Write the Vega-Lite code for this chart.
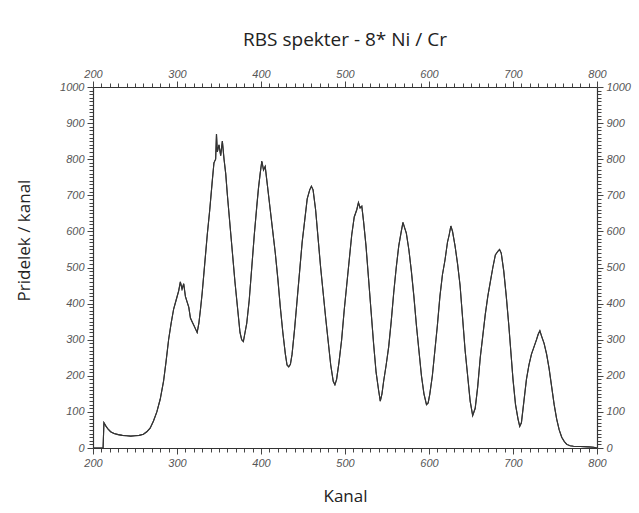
{
  "$schema": "https://vega.github.io/schema/vega-lite/v6.json",
  "width": 504,
  "height": 361,
  "autosize": {"type": "none"},
  "padding": {"left": 93, "top": 87, "right": 42, "bottom": 65},
  "background": "white",
  "config": {"view": {"stroke": null}},
  "title": {"text": "RBS spekter - 8* Ni / Cr", "fontSize": 19, "font": "Open Sans", "fontWeight": "normal", "color": "#222", "offset": 18},
  "data": {"values": [
    {"k":200,"c":0},{"k":210,"c":0},{"k":212,"c":0},{"k":213,"c":70},{"k":215,"c":62},{"k":218,"c":52},{"k":221,"c":45},{"k":225,"c":40},{"k":230,"c":37},{"k":235,"c":35},{"k":240,"c":34},{"k":245,"c":33},{"k":250,"c":34},{"k":255,"c":35},{"k":260,"c":38},{"k":264,"c":45},{"k":268,"c":55},{"k":272,"c":75},{"k":276,"c":100},{"k":280,"c":135},{"k":284,"c":185},{"k":287,"c":240},{"k":290,"c":300},{"k":293,"c":345},{"k":296,"c":385},{"k":299,"c":410},{"k":302,"c":435},{"k":304,"c":460},{"k":306,"c":440},{"k":308,"c":455},{"k":310,"c":420},{"k":312,"c":405},{"k":314,"c":390},{"k":316,"c":360},{"k":318,"c":350},{"k":320,"c":340},{"k":322,"c":330},{"k":324,"c":320},{"k":326,"c":345},{"k":328,"c":385},{"k":330,"c":430},{"k":333,"c":510},{"k":336,"c":590},{"k":339,"c":660},{"k":342,"c":740},{"k":344,"c":790},{"k":346,"c":800},{"k":347,"c":870},{"k":348,"c":820},{"k":350,"c":840},{"k":352,"c":810},{"k":354,"c":850},{"k":356,"c":800},{"k":358,"c":760},{"k":360,"c":700},{"k":363,"c":620},{"k":366,"c":540},{"k":369,"c":460},{"k":372,"c":390},{"k":375,"c":320},{"k":377,"c":300},{"k":379,"c":295},{"k":381,"c":320},{"k":383,"c":345},{"k":386,"c":410},{"k":389,"c":500},{"k":392,"c":590},{"k":395,"c":670},{"k":397,"c":720},{"k":399,"c":760},{"k":401,"c":795},{"k":403,"c":770},{"k":405,"c":780},{"k":407,"c":740},{"k":409,"c":700},{"k":411,"c":660},{"k":414,"c":600},{"k":417,"c":540},{"k":420,"c":470},{"k":423,"c":390},{"k":426,"c":320},{"k":429,"c":260},{"k":431,"c":230},{"k":433,"c":225},{"k":435,"c":232},{"k":437,"c":260},{"k":440,"c":330},{"k":443,"c":410},{"k":446,"c":490},{"k":449,"c":570},{"k":452,"c":630},{"k":455,"c":690},{"k":458,"c":715},{"k":460,"c":725},{"k":462,"c":715},{"k":465,"c":660},{"k":468,"c":580},{"k":471,"c":500},{"k":474,"c":430},{"k":477,"c":360},{"k":480,"c":295},{"k":483,"c":230},{"k":486,"c":185},{"k":488,"c":175},{"k":490,"c":190},{"k":493,"c":240},{"k":496,"c":300},{"k":499,"c":380},{"k":502,"c":450},{"k":505,"c":520},{"k":508,"c":590},{"k":511,"c":640},{"k":514,"c":660},{"k":516,"c":680},{"k":518,"c":665},{"k":520,"c":670},{"k":522,"c":630},{"k":525,"c":560},{"k":528,"c":470},{"k":531,"c":380},{"k":534,"c":290},{"k":537,"c":210},{"k":540,"c":160},{"k":542,"c":130},{"k":544,"c":150},{"k":546,"c":185},{"k":549,"c":230},{"k":552,"c":280},{"k":555,"c":350},{"k":558,"c":430},{"k":561,"c":500},{"k":564,"c":560},{"k":567,"c":600},{"k":569,"c":625},{"k":571,"c":610},{"k":573,"c":595},{"k":576,"c":550},{"k":579,"c":490},{"k":582,"c":420},{"k":585,"c":340},{"k":588,"c":270},{"k":591,"c":200},{"k":594,"c":150},{"k":597,"c":120},{"k":599,"c":125},{"k":601,"c":150},{"k":604,"c":200},{"k":607,"c":270},{"k":610,"c":340},{"k":613,"c":420},{"k":616,"c":480},{"k":619,"c":520},{"k":622,"c":570},{"k":624,"c":590},{"k":626,"c":615},{"k":628,"c":600},{"k":631,"c":560},{"k":634,"c":510},{"k":637,"c":450},{"k":640,"c":360},{"k":643,"c":270},{"k":646,"c":200},{"k":649,"c":130},{"k":652,"c":90},{"k":655,"c":110},{"k":658,"c":170},{"k":661,"c":250},{"k":664,"c":310},{"k":667,"c":370},{"k":670,"c":420},{"k":673,"c":460},{"k":676,"c":500},{"k":679,"c":535},{"k":682,"c":545},{"k":684,"c":550},{"k":686,"c":540},{"k":689,"c":490},{"k":692,"c":420},{"k":695,"c":340},{"k":698,"c":250},{"k":700,"c":190},{"k":703,"c":120},{"k":706,"c":80},{"k":708,"c":60},{"k":710,"c":70},{"k":713,"c":130},{"k":716,"c":190},{"k":719,"c":230},{"k":722,"c":260},{"k":725,"c":280},{"k":728,"c":300},{"k":730,"c":315},{"k":732,"c":325},{"k":734,"c":310},{"k":737,"c":290},{"k":740,"c":260},{"k":743,"c":220},{"k":746,"c":170},{"k":749,"c":120},{"k":752,"c":80},{"k":755,"c":50},{"k":758,"c":30},{"k":761,"c":18},{"k":764,"c":10},{"k":768,"c":6},{"k":772,"c":5},{"k":780,"c":4},{"k":790,"c":3},{"k":796,"c":2},{"k":800,"c":0}
  ]},
  "layer": [
    {
      "mark": {"type": "line", "color": "#333", "strokeWidth": 1.1, "clip": true},
      "encoding": {
        "x": {"field": "k", "type": "quantitative", "scale": {"domain": [200, 800], "nice": false, "zero": false},
          "axis": {"orient": "bottom", "title": "Kanal", "titleFont": "Open Sans", "titleFontSize": 17, "titleFontWeight": "normal", "titleColor": "#222", "titlePadding": 20, "format": "d",
            "values": [200,210,220,230,240,250,260,270,280,290,300,310,320,330,340,350,360,370,380,390,400,410,420,430,440,450,460,470,480,490,500,510,520,530,540,550,560,570,580,590,600,610,620,630,640,650,660,670,680,690,700,710,720,730,740,750,760,770,780,790,800],
            "labelExpr": "datum.value % 100 === 0 ? datum.label : ''", "labelOverlap": false, "labelFlush": false,
            "grid": false, "domainColor": "#333", "domainWidth": 1.2, "tickColor": "#444", "tickWidth": 1,
            "tickSize": {"condition": {"test": "datum.value % 100 === 0", "value": 6}, "value": 4},
            "labelFont": "Liberation Sans", "labelFontStyle": "italic", "labelFontSize": 11, "labelColor": "#555", "labelPadding": 3}},
        "y": {"field": "c", "type": "quantitative", "scale": {"domain": [0, 1000], "nice": false},
          "axis": {"orient": "left", "title": "Pridelek / kanal", "titleFont": "Open Sans", "titleFontSize": 17, "titleFontWeight": "normal", "titleColor": "#222", "titleX": -60, "titleY": 153, "format": "d",
            "values": [0,10,20,30,40,50,60,70,80,90,100,110,120,130,140,150,160,170,180,190,200,210,220,230,240,250,260,270,280,290,300,310,320,330,340,350,360,370,380,390,400,410,420,430,440,450,460,470,480,490,500,510,520,530,540,550,560,570,580,590,600,610,620,630,640,650,660,670,680,690,700,710,720,730,740,750,760,770,780,790,800,810,820,830,840,850,860,870,880,890,900,910,920,930,940,950,960,970,980,990,1000],
            "labelExpr": "datum.value % 100 === 0 ? datum.label : ''", "labelOverlap": false, "labelFlush": false,
            "grid": false, "domainColor": "#333", "domainWidth": 1.2, "tickColor": "#444", "tickWidth": 1,
            "tickSize": {"condition": {"test": "datum.value % 100 === 0", "value": 6}, "value": 4},
            "labelFont": "Liberation Sans", "labelFontStyle": "italic", "labelFontSize": 11, "labelColor": "#555", "labelPadding": 3}}
      }
    },
    {
      "mark": {"type": "line", "color": "#333", "strokeWidth": 1.1, "clip": true},
      "encoding": {
        "x": {"field": "k", "type": "quantitative",
          "axis": {"orient": "top", "title": null, "format": "d",
            "values": [200,210,220,230,240,250,260,270,280,290,300,310,320,330,340,350,360,370,380,390,400,410,420,430,440,450,460,470,480,490,500,510,520,530,540,550,560,570,580,590,600,610,620,630,640,650,660,670,680,690,700,710,720,730,740,750,760,770,780,790,800],
            "labelExpr": "datum.value % 100 === 0 ? datum.label : ''", "labelOverlap": false, "labelFlush": false,
            "grid": false, "domainColor": "#333", "domainWidth": 1.2, "tickColor": "#444", "tickWidth": 1,
            "tickSize": {"condition": {"test": "datum.value % 100 === 0", "value": 6}, "value": 4},
            "labelFont": "Liberation Sans", "labelFontStyle": "italic", "labelFontSize": 11, "labelColor": "#555", "labelPadding": 2}},
        "y": {"field": "c", "type": "quantitative",
          "axis": {"orient": "right", "title": null, "format": "d",
            "values": [0,10,20,30,40,50,60,70,80,90,100,110,120,130,140,150,160,170,180,190,200,210,220,230,240,250,260,270,280,290,300,310,320,330,340,350,360,370,380,390,400,410,420,430,440,450,460,470,480,490,500,510,520,530,540,550,560,570,580,590,600,610,620,630,640,650,660,670,680,690,700,710,720,730,740,750,760,770,780,790,800,810,820,830,840,850,860,870,880,890,900,910,920,930,940,950,960,970,980,990,1000],
            "labelExpr": "datum.value % 100 === 0 ? datum.label : ''", "labelOverlap": false, "labelFlush": false,
            "grid": false, "domainColor": "#333", "domainWidth": 1.2, "tickColor": "#444", "tickWidth": 1,
            "tickSize": {"condition": {"test": "datum.value % 100 === 0", "value": 6}, "value": 4},
            "labelFont": "Liberation Sans", "labelFontStyle": "italic", "labelFontSize": 11, "labelColor": "#555", "labelPadding": 3}}
      }
    }
  ],
  "resolve": {"axis": {"x": "independent", "y": "independent"}}
}
